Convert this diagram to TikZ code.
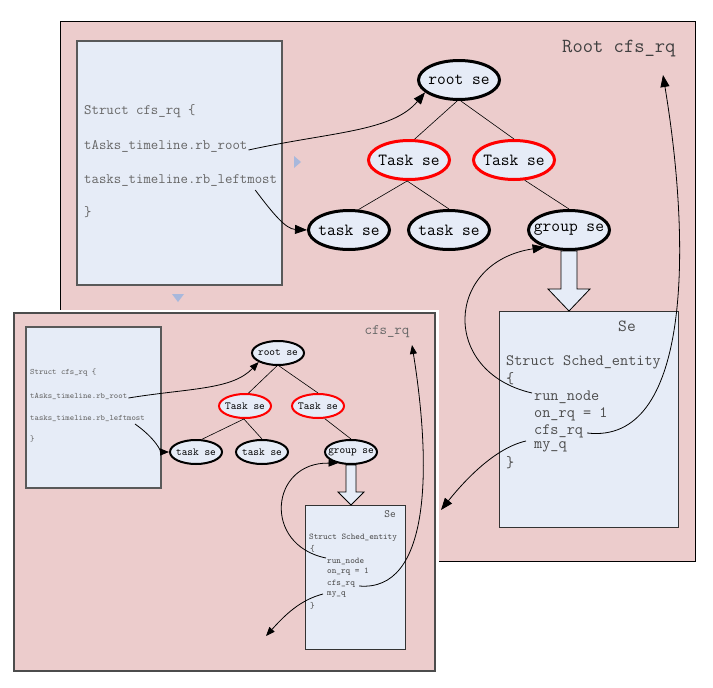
\documentclass[tikz,border=0pt]{standalone}
\usepackage{fontspec}
\usetikzlibrary{shapes.geometric,arrows.meta,calc}
\definecolor{pinkc}{RGB}{236,204,204}
\definecolor{bluec}{RGB}{230,236,247}
\definecolor{tric}{RGB}{168,184,220}
\newcommand{\zw}[1]{\makebox[0pt]{#1}}
\begin{document}
\begin{tikzpicture}[x=1pt,y=-1pt,
  panel/.style={fill=pinkc,draw=black,line width=0.8pt},
  sbox/.style={fill=bluec,draw=black!65,line width=1.2pt},
  codeA/.style={font=\ttfamily\fontsize{14.4}{16}\selectfont,text=black!60,anchor=west,inner sep=0pt},
  codeB/.style={font=\ttfamily\fontsize{15.8}{17}\selectfont,text=black!70,anchor=west,inner sep=0pt},
  seA/.style={ellipse,draw=black,line width=3pt,fill=bluec,minimum width=81pt,minimum height=39pt,inner sep=0pt,font=\ttfamily\fontsize{17}{18}\selectfont},
  redA/.style={seA,draw=red},
  seB/.style={ellipse,draw=black,line width=2pt,fill=bluec,minimum width=52pt,minimum height=24pt,inner sep=0pt,font=\ttfamily\fontsize{10.8}{12}\selectfont},
  redB/.style={seB,draw=red},
  codeC/.style={font=\ttfamily\fontsize{8.3}{9}\selectfont,text=black!60,anchor=west,inner sep=0pt},
  codeD/.style={font=\ttfamily\fontsize{8.8}{9}\selectfont,text=black!70,anchor=west,inner sep=0pt},
  tree/.style={line width=0.6pt},
  conA/.style={-{Triangle[length=12pt,width=9pt]},line width=0.8pt},
  conB/.style={-{Triangle[length=9pt,width=7pt]},line width=0.8pt},
  blockarrow/.style={fill=bluec,draw=black,line width=0.8pt}
]
\useasboundingbox (0,0) rectangle (713,688);

% ================= upper panel =================
\draw[panel] (60,21) rectangle (695,561);
\node[font=\ttfamily\fontsize{20}{22}\selectfont,text=black!75,anchor=west,inner sep=0pt] (rootlbl) at (562,49) {Root cfs\_rq};

\draw[sbox] (77,41) rectangle (282,285);
\node[codeA] (sA) at (84,111) {Struct cfs\_rq \{};
\node[codeA] (rbA) at (84,146) {tAsks\_timeline.rb\_root};
\node[codeA] (lmA) at (84,180) {tasks\_timeline.rb\_leftmost};
\node[codeA] (cbA) at (84,212) {\}};

\node[seA]  (rootA) at (459,80) {\zw{root se}};
\node[redA] (t1A)   at (409,160) {\zw{Task se}};
\node[redA] (t2A)   at (514,160) {\zw{Task se}};
\node[seA]  (k1A)   at (349,230) {\zw{task se}};
\node[seA]  (k2A)   at (449,230) {\zw{task se}};
\node[seA]  (gA)    at (569,230) {\zw{group se}};

\draw[tree] (rootA.265) -- (t1A.75);
\draw[tree] (rootA.275) -- (t2A.north);
\draw[tree] (t1A.265) -- (k1A.65);
\draw[tree] (t1A.265) -- (k2A.north);
\draw[tree] (t2A.-62) -- (gA.north);

\draw[fill=tric,draw=none] (294,156) -- (301,162) -- (294,168) -- cycle;
\draw[fill=tric,draw=none] (172,294) -- (184,294) -- (178,302) -- cycle;

\draw[sbox,line width=0.9pt,draw=black!80] (499,311) rectangle (678,527);
\draw[blockarrow] ($(gA.south)+(-8,0)$) -- ($(gA.south)+(8,0)$) -- (577,289) -- (590,289) -- (569,311) -- (548,289) -- (561,289) -- cycle;
\node[font=\ttfamily\fontsize{17}{19}\selectfont,text=black!70,inner sep=0pt] (seLA) at (627,326) {Se};
\node[codeB] (schA) at (506,362) {Struct Sched\_entity};
\node[codeB] at (506,379) {\{};
\node[codeB] (runA) at (534,397) {run\_node};
\node[codeB] (onA)  at (534,414) {on\_rq = 1};
\node[codeB] (cfsA) at (534,431) {cfs\_rq};
\node[codeB] (myA)  at (534,447) {my\_q};
\node[codeB] at (506,463) {\}};

\coordinate (upA) at (663,75);
\coordinate (outA) at (441,510);
\draw[conA] ($(rbA.east)+(1,4)$) .. controls (330,132) and (392,132) .. (rootA.200);
\draw[conA] ($(lmA.east)+(-22,10)$) .. controls (274,215) and (286,229) .. (k1A.west);
\draw[conA] ($(runA.west)+(-2,-4)$) .. controls (440,372) and (445,262) .. (gA.215);
\draw[conA] ($(cfsA.east)+(4,2)$) .. controls (690,445) and (692,250) .. (upA);
\draw[conA] ($(myA.west)+(-8,-6)$) .. controls (495,448) and (465,480) .. (outA);

% ================= lower panel =================
\fill[white] (11,310) rectangle (439,674);
\draw[fill=pinkc,draw=black!70,line width=1.5pt] (14,313) rectangle (435,671);
\node[font=\ttfamily\fontsize{14.5}{16}\selectfont,text=black!60,inner sep=0pt] (rootlblB) at (387,332) {cfs\_rq};

\draw[sbox] (26,327) rectangle (161,488);
\node[codeC] (sB)  at (30,373) {Struct cfs\_rq \{};
\node[codeC] (rbB) at (30,396) {tAsks\_timeline.rb\_root};
\node[codeC] (lmB) at (30,418) {tasks\_timeline.rb\_leftmost};
\node[codeC] (cbB) at (30,439) {\}};

\node[seB]  (rootB) at (278,353) {\zw{root se}};
\node[redB] (t1B)   at (245,406) {\zw{Task se}};
\node[redB] (t2B)   at (318,406) {\zw{Task se}};
\node[seB]  (k1B)   at (196,452) {\zw{task se}};
\node[seB]  (k2B)   at (262,452) {\zw{task se}};
\node[seB]  (gB)    at (351,452) {\zw{group se}};

\draw[tree] (rootB.265) -- (t1B.75);
\draw[tree] (rootB.275) -- (t2B.north);
\draw[tree] (t1B.265) -- (k1B.65);
\draw[tree] (t1B.265) -- (k2B.north);
\draw[tree] (t2B.-62) -- (gB.north);

\draw[sbox,line width=0.9pt,draw=black!80] (305,505) rectangle (405,649);
\draw[blockarrow] ($(gB.south)+(-5,0)$) -- ($(gB.south)+(5,0)$) -- (356,492) -- (364,492) -- (351,505) -- (338,492) -- (346,492) -- cycle;
\node[font=\ttfamily\fontsize{11}{12}\selectfont,text=black!70,inner sep=0pt] (seLB) at (390,514) {Se};
\node[codeD] (schB) at (309,538) {Struct Sched\_entity};
\node[codeD] at (310,549) {\{};
\node[codeD] (runB) at (327,561) {run\_node};
\node[codeD] (onB)  at (327,572) {on\_rq = 1};
\node[codeD] (cfsB) at (327,584) {cfs\_rq};
\node[codeD] (myB)  at (327,595) {my\_q};
\node[codeD] at (310,606) {\}};

\coordinate (upB) at (412,345);
\coordinate (outB) at (266,636);
\draw[conB] ($(rbB.east)+(1,2)$) .. controls (190,388) and (232,390) .. (rootB.205);
\draw[conB] ($(lmB.east)+(-10,6)$) .. controls (155,438) and (162,452) .. (k1B.west);
\draw[conB] ($(runB.west)+(-1,-3)$) .. controls (262,545) and (270,462) .. (gB.220);
\draw[conB] ($(cfsB.east)+(4,2)$) .. controls (430,592) and (432,470) .. (upB);
\draw[conB] ($(myB.west)+(-4,-1)$) .. controls (300,600) and (285,615) .. (outB);
\end{tikzpicture}
\end{document}
